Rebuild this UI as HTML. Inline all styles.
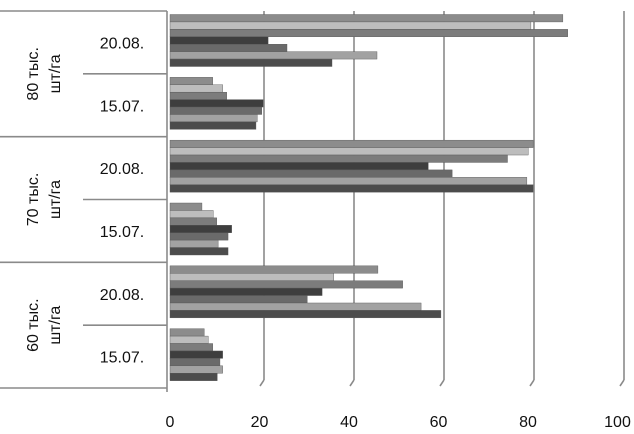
<!DOCTYPE html>
<html><head><meta charset="utf-8"><style>
body{margin:0;background:#fff;}
svg text{font-family:"Liberation Sans","DejaVu Sans",sans-serif;fill:#111;}
</style></head><body>
<svg id="chart" width="634" height="429" viewBox="0 0 634 429" xmlns="http://www.w3.org/2000/svg">
<g id="grid"></g>
<g id="frame"></g>
<g id="bars"></g>
<g id="labels"></g>
</svg>
<script>
const groups = ["80 тыс.|шт/га", "70 тыс.|шт/га", "60 тыс.|шт/га"];
const dates = ["20.08.", "15.07.", "20.08.", "15.07.", "20.08.", "15.07."];
const s1 = [87.3, 9.5, 80.7, 7.1, 46.2, 7.6];
const s2 = [80.2, 11.7, 79.6, 9.6, 36.4, 8.5];
const s3 = [88.4, 12.6, 75.0, 10.4, 51.7, 9.5];
const s4 = [21.8, 20.7, 57.4, 13.7, 33.8, 11.7];
const s5 = [26.0, 20.4, 62.7, 12.9, 30.5, 11.1];
const s6 = [46.0, 19.4, 79.3, 10.7, 55.8, 11.7];
const s7 = [36.0, 19.1, 80.7, 12.9, 60.2, 10.5];
const ticks = [0, 20, 40, 60, 80, 100];

const series = [s1, s2, s3, s4, s5, s6, s7];
const fills = ["#8c8c8c", "#bdbdbd", "#7c7c7c", "#3e3e3e", "#6a6a6a", "#a2a2a2", "#4c4c4c"];
const NS = "http://www.w3.org/2000/svg";
const top0 = 11, bot0 = 388, x0 = 170, kx = 4.5;
const band = (bot0 - top0) / dates.length;
const X = v => x0 + v * kx;
function mk(tag, attrs, parent) {
  const e = document.createElementNS(NS, tag);
  for (const k in attrs) e.setAttribute(k, attrs[k]);
  parent.appendChild(e);
  return e;
}
const grid = document.getElementById('grid');
const frame = document.getElementById('frame');
const barsG = document.getElementById('bars');
const labels = document.getElementById('labels');

ticks.forEach((t, i) => {
  if (t > 0) {
    const gl = mk('line', {x1: X(t) + 4, y1: top0, x2: X(t) + 4, y2: bot0 - 8, stroke: '#8a8a8a', 'stroke-width': 1.6}, grid);
    
    
    const sk = mk('line', {x1: X(t) + 4, y1: bot0 - 8, x2: X(t), y2: bot0 - 2, stroke: '#8a8a8a', 'stroke-width': 1.6}, grid);
    
    
  }
  const tl = mk('text', {x: X(t) - 0.5 * i, y: 427, 'text-anchor': 'middle', 'font-size': 16}, labels);
  tl.textContent = t;
  
  
});

// axis and frame lines
const ax = mk('line', {x1: 167, y1: top0, x2: 167, y2: bot0 + 4, stroke: '#8a8a8a', 'stroke-width': 1.6}, frame);


for (let i = 0; i <= dates.length; i++) {
  const y = top0 + i * band;
  const full = i % 2 === 0;
  const l = mk('line', {x1: full ? 0 : 83, y1: y, x2: 167, y2: y, stroke: '#8a8a8a', 'stroke-width': 1.6}, frame);
  
  
}

dates.forEach((d, c) => {
  const bt = top0 + c * band + 3.5;
  const bh = 52 / series.length;
  series.forEach((s, k) => {
    const r = mk('rect', {x: x0, y: bt + k * bh, width: Math.max(0, X(s[c]) - x0), height: bh, fill: fills[k], stroke: '#555', 'stroke-width': 0.4}, barsG);
    
    
  });
  const t = mk('text', {x: 122, y: top0 + c * band + band / 2 + 6, 'text-anchor': 'middle', 'font-size': 16}, labels);
  t.textContent = d;
  
  
});

groups.forEach((g, i) => {
  const cy = top0 + (2 * i + 1) * band;
  const parts = g.split('|');
  const tg = mk('text', {transform: 'translate(40,' + cy + ') rotate(-90)', 'text-anchor': 'middle', 'font-size': 16}, labels);
  
  
  parts.forEach((p, j) => {
    const ts = mk('tspan', {x: 0, y: j === 0 ? -2 : 20}, tg);
    ts.textContent = p;
  });
});
</script>
</body></html>
